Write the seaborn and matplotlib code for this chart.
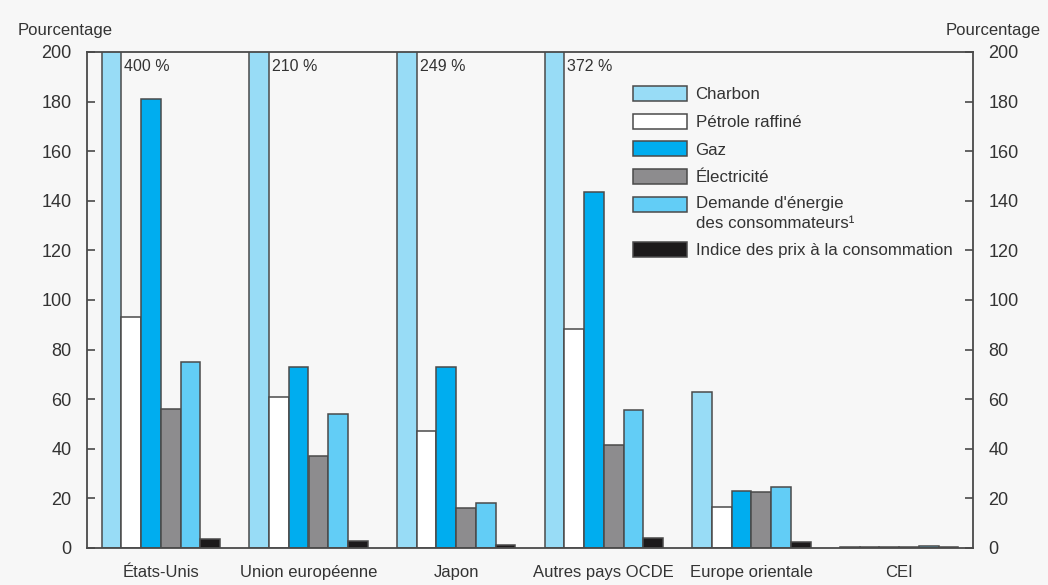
import matplotlib
matplotlib.use("Agg")
import matplotlib.pyplot as plt
import matplotlib.patches as mpatches
from matplotlib.legend_handler import HandlerPatch
import seaborn as sns
import pandas as pd

# Regions and energy-price series (percentage change)
regions = ["États-Unis", "Union européenne", "Japon", "Autres pays OCDE",
           "Europe orientale", "CEI"]
series = ["Charbon", "Pétrole raffiné", "Gaz", "Électricité",
          "Demande d'énergie\ndes consommateurs¹",
          "Indice des prix à la consommation"]

charbon = [400, 210, 249, 372, 63, 0.5]
petrole = [93, 61, 47, 88.5, 16.5, 0.5]
gaz = [181, 73, 73, 143.5, 23, 0.5]
electricite = [56, 37, 16, 41.5, 22.5, 0.6]
demande = [75, 54, 18, 55.5, 24.5, 1.0]
ipc = [3.5, 3, 1.2, 4, 2.3, 0.5]

colors = ["#98dcf6", "#ffffff", "#00adef", "#8d8c8e", "#62cdf6", "#1c1a1b"]

values = [charbon, petrole, gaz, electricite, demande, ipc]
df = pd.DataFrame(
    [(r, s, v[i]) for s, v in zip(series, values) for i, r in enumerate(regions)],
    columns=["region", "serie", "valeur"],
)

sns.set_theme(style="white")
plt.rcParams["font.family"] = ["Liberation Sans", "DejaVu Sans"]

bg = "#f7f7f7"
ink = "#333333"
edge = "#4a4a4a"

fig = plt.figure(figsize=(10.48, 5.85), dpi=100, facecolor=bg)
ax = fig.add_axes([87 / 1048, 1 - 548 / 585, (973 - 87) / 1048, (548 - 52) / 585])
ax.set_facecolor(bg)

sns.barplot(
    data=df, x="region", y="valeur", hue="serie",
    order=regions, hue_order=series,
    palette=dict(zip(series, colors)), saturation=1,
    width=0.8, errorbar=None, edgecolor=edge, linewidth=1.1, ax=ax,
)

ax.set_ylim(0, 200)
ax.set_xlim(-0.5, len(regions) - 0.5)
ax.set_yticks(range(0, 201, 20))
ax.set_xlabel("")
ax.set_ylabel("")

for sp in ax.spines.values():
    sp.set_color(edge)
    sp.set_linewidth(1.3)

ax.tick_params(axis="y", which="both", left=True, right=True,
               labelleft=True, labelright=True, direction="in",
               length=6, width=1.2, color=edge, pad=11,
               labelsize=13, labelcolor=ink)
ax.tick_params(axis="x", length=0, pad=12, labelsize=12, labelcolor=ink)

# Values above the axis limit are stated beside the clipped bar
for patch, v in zip(ax.containers[0], charbon):
    if v > 200:
        ax.text(patch.get_x() + patch.get_width() + 0.02, 197, f"{v:g} %",
                ha="left", va="top", fontsize=11.5, color=ink)


# Two-line legend entry: keep its swatch level with the first text line
def raised_patch(legend, orig_handle, xdescent, ydescent, width, height, fontsize):
    return mpatches.Rectangle((-xdescent, -ydescent + 0.55 * fontsize), width, height)


handles, labels = ax.get_legend_handles_labels()
leg = ax.legend(
    handles, labels,
    loc="upper left", bbox_to_anchor=(0.6085, 0.945), frameon=False,
    fontsize=12.2, handlelength=3.2, handleheight=1.0, handletextpad=0.5,
    labelspacing=0.66, labelcolor=ink, borderaxespad=0,
    handler_map={handles[4]: HandlerPatch(patch_func=raised_patch)},
)
for h in leg.legend_handles:
    h.set_edgecolor(edge)
    h.set_linewidth(1.1)
for t in leg.get_texts():
    if "\n" in t.get_text():
        t.set_linespacing(1.35)

fig.text(18 / 1048, 1 - 30 / 585, "Pourcentage", ha="left", va="center",
         fontsize=12, color=ink)
fig.text(1041 / 1048, 1 - 30 / 585, "Pourcentage", ha="right", va="center",
         fontsize=12, color=ink)

fig.savefig("out.png", dpi=100, facecolor=bg)
